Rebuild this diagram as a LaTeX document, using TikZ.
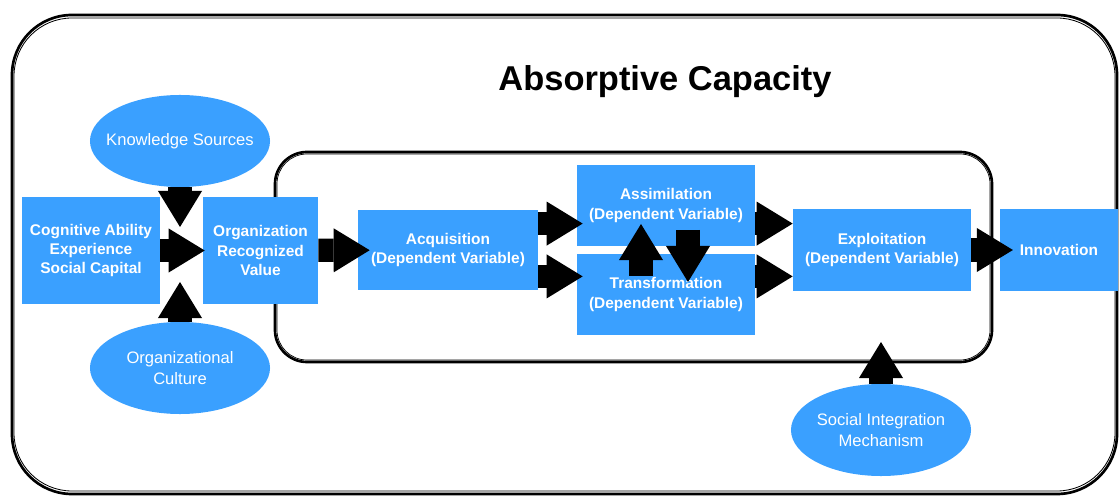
\documentclass[tikz,border=0pt]{standalone}
\usepackage{fontspec}
\setmainfont{Liberation Sans}
\usetikzlibrary{shapes,arrows.meta,positioning,calc}
\definecolor{boxblue}{RGB}{58,160,255}

\tikzset{
  varbox/.style={fill=boxblue, text=white, font=\fontsize{11}{13.8}\selectfont\bfseries, align=center, inner sep=0pt},
  srcnode/.style={ellipse, fill=boxblue, text=white, font=\fontsize{11.8}{14.4}\selectfont, align=center, inner xsep=-0.6cm, inner ysep=0pt, minimum width=4.5cm, minimum height=2.3cm},
  blockarrow/.style={line width=0.58cm, -{Triangle[length=0.9cm,width=1.1cm,line width=0pt]}},
  sketch/.style={line width=1.9pt, rounded corners=#1},
}

\begin{document}
\begin{tikzpicture}[x=0.025cm, y=-0.025cm]
    \useasboundingbox (0,0) rectangle (1120,498);

    % Frames
    \draw[sketch=1.5cm] (12,15) rectangle (1117,494);
    \draw[line width=0.6pt, rounded corners=1.45cm] (14,18) rectangle (1115,491);
    \draw[sketch=0.8cm] (275,152) rectangle (992,362);
    \draw[line width=0.5pt, rounded corners=0.75cm] (277,154) rectangle (990,360);
    \node[font=\fontsize{24.5}{29}\selectfont\bfseries] (title) at (665,82) {Absorptive Capacity};

    % Variables
    \node[varbox, minimum width=3.45cm, minimum height=2.675cm] (cog) at (91,250.5) {Cognitive Ability\\Experience\\Social Capital};
    \node[varbox, minimum width=2.875cm, minimum height=2.675cm] (org) at (260.5,250.5) {Organization\\Recognized\\Value};
    \node[varbox, minimum width=4.5cm, minimum height=2cm] (acq) at (448,250) {Acquisition\\(Dependent Variable)};
    \node[varbox, minimum width=4.45cm, minimum height=2.025cm] (assim) at (666,205.5) {Assimilation\\(Dependent Variable)};
    \node[varbox, minimum width=4.45cm, minimum height=2.025cm] (trans) at (666,294.5) {Transformation\\(Dependent Variable)};
    \node[varbox, minimum width=4.45cm, minimum height=2.05cm] (expl) at (882,250) {Exploitation\\(Dependent Variable)};
    \node[varbox, minimum width=2.95cm, minimum height=2.05cm] (innov) at (1059,250) {Innovation};

    % Sources
    \node[srcnode] (ks) at (180,141) {Knowledge Sources};
    \node[srcnode] (oc) at (180,368) {Organizational\\Culture};
    \node[srcnode] (sim) at (881,430) {Social Integration\\Mechanism};

    % Arrow ends
    \coordinate (ksend) at (180,227);
    \coordinate (ocend) at (180,282);
    \coordinate (simend) at (881,342);
    \coordinate (asup) at ([yshift=0.66cm]acq.east);
    \coordinate (trdn) at ([yshift=-0.66cm]acq.east);
    \coordinate (exup) at ([yshift=0.66cm]expl.west);
    \coordinate (exdn) at ([yshift=-0.66cm]expl.west);
    \coordinate (tu1) at (641,276);
    \coordinate (tu2) at (641,224);
    \coordinate (td1) at (688,230);
    \coordinate (td2) at (688,282);

    % Arrows
    \draw[blockarrow] (ks) -- (ksend);
    \draw[blockarrow] (oc) -- (ocend);
    \draw[blockarrow, shorten >=-0.05cm] (cog) -- (org);
    \draw[blockarrow, shorten >=-0.3cm] (org) -- (acq);
    \draw[blockarrow, shorten >=-0.15cm] (asup) -- (asup -| assim.west);
    \draw[blockarrow, shorten >=-0.15cm] (trdn) -- (trdn -| trans.west);
    \draw[blockarrow] (tu1) -- (tu2);
    \draw[blockarrow] (td1) -- (td2);
    \draw[blockarrow] (exup -| assim.east) -- (exup);
    \draw[blockarrow] (exdn -| trans.east) -- (exdn);
    \draw[blockarrow, shorten >=-0.33cm] (expl) -- (innov);
    \draw[blockarrow] (sim) -- (simend);
\end{tikzpicture}
\end{document}
